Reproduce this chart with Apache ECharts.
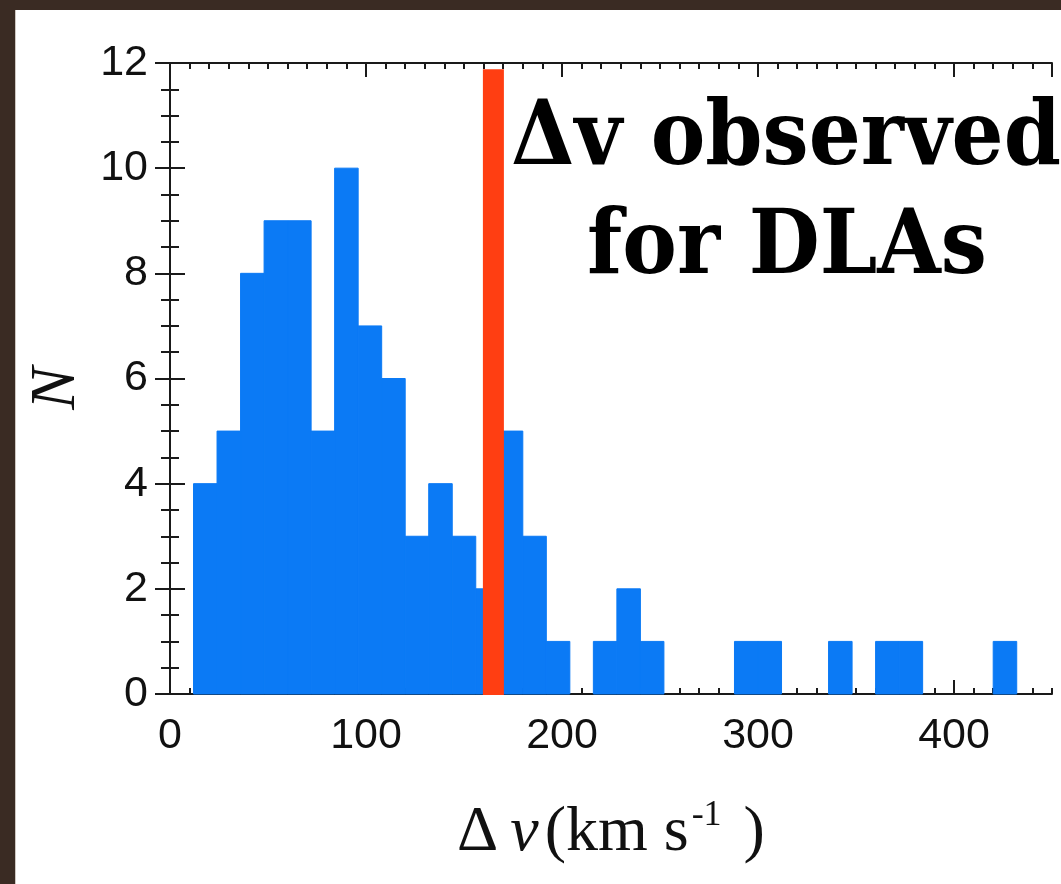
<!DOCTYPE html>
<html>
<head>
<meta charset="utf-8">
<script src="https://cdn.jsdelivr.net/npm/echarts@6/dist/echarts.min.js"></script>
<style>
html,body{margin:0;padding:0;background:#3a2b23;}
#panel{position:absolute;left:15px;top:10px;width:1046px;height:874px;background:#ffffff;border-left:1px solid #cfc8c2;}
#c{position:absolute;left:0;top:0;width:1061px;height:884px;}
</style>
</head>
<body>
<div id="panel"></div>
<div id="c"></div>
<script>
// Histogram bins (km/s) and counts
const binLeft  = [12, 24, 36, 48, 60, 72, 84, 96, 108, 120, 132, 144, 156, 168, 180, 192, 204, 216, 228, 240, 252, 264, 276, 288, 300, 312, 324, 336, 348, 360, 372, 384, 396, 408, 420];
const binRight = [24, 36, 48, 60, 72, 84, 96, 108, 120, 132, 144, 156, 168, 180, 192, 204, 216, 228, 240, 252, 264, 276, 288, 300, 312, 324, 336, 348, 360, 372, 384, 396, 408, 420, 432];
const counts   = [4, 5, 8, 9, 9, 5, 10, 7, 6, 3, 4, 3, 2, 5, 3, 1, 0, 1, 2, 1, 0, 0, 0, 1, 1, 0, 0, 1, 0, 1, 1, 0, 0, 0, 1];

// Observed DLA velocity width marker
const observedDv = 165;
const observedTop = 11.88;

// Axes
const xMin = 0, xMax = 450, xMajor = 100, xMinor = 10;
const yMin = 0, yMax = 12, yMajor = 2;
const annotationLines = ['Δv observed', 'for DLAs'];
const xName = '{d|Δ}{v|v}{t|(km s}{s|-1}{p|)}';
const yName = 'N';

const chart = echarts.init(document.getElementById('c'), null, {renderer: 'canvas'});

const axisLine = {show: true, lineStyle: {color: '#1a1a1a', width: 2}};
function xAxisDef(pos, interval, len, labels, line) {
  return {
    type: 'value', position: pos, min: xMin, max: xMax, interval: interval,
    axisLine: line ? axisLine : {show: false},
    axisTick: {show: true, inside: true, length: len, lineStyle: {color: '#1a1a1a', width: 2}},
    axisLabel: labels ? {
      show: true, margin: 21, color: '#111', fontSize: 43, fontFamily: 'Liberation Sans',
      showMaxLabel: false,
      formatter: v => (v % 100 === 0 ? String(v) : '')
    } : {show: false},
    splitLine: {show: false}
  };
}

const serif = 'Liberation Serif';
const option = {
  backgroundColor: 'transparent',
  animation: false,
  grid: {left: 170, right: 9, top: 63, bottom: 190, containLabel: false},
  xAxis: [
    Object.assign(xAxisDef('bottom', xMajor, 14, true, true), {
      name: xName, nameLocation: 'middle', nameGap: 104,
      nameTextStyle: {
        rich: {
          d: {fontFamily: serif, fontSize: 64, color: '#111', lineHeight: 70, padding: [0, 12, 0, 0]},
          v: {fontFamily: serif, fontStyle: 'italic', fontSize: 64, color: '#111', lineHeight: 70, padding: [0, 6, 0, 0]},
          t: {fontFamily: serif, fontSize: 64, color: '#111', lineHeight: 70},
          s: {fontFamily: serif, fontSize: 36, color: '#111', lineHeight: 36, verticalAlign: 'top', padding: [0, 0, 0, 3]},
          p: {fontFamily: serif, fontSize: 64, color: '#111', lineHeight: 70, padding: [0, 0, 0, 22]}
        }
      }
    }),
    xAxisDef('bottom', xMinor, 6, false, false),
    xAxisDef('top', xMajor, 14, false, true),
    xAxisDef('top', xMinor, 6, false, false)
  ],
  yAxis: [
    {
      type: 'value', position: 'left', min: yMin, max: yMax, interval: yMajor,
      axisLine: axisLine,
      axisTick: {show: true, inside: true, length: 15, lineStyle: {color: '#1a1a1a', width: 2}},
      minorTick: {show: true, splitNumber: 4, length: 9, lineStyle: {color: '#1a1a1a', width: 2}},
      axisLabel: {show: true, margin: 22, color: '#111', fontSize: 43, fontFamily: 'Liberation Sans'},
      splitLine: {show: false},
      name: yName, nameLocation: 'middle', nameGap: 69, nameRotate: 90,
      nameTextStyle: {fontFamily: serif, fontStyle: 'italic', fontSize: 64, color: '#111', padding: [0, 20, 0, 0]}
    },
    {
      type: 'value', position: 'right', min: yMin, max: yMax, interval: yMajor,
      axisLine: axisLine,
      axisTick: {show: true, inside: true, length: 15, lineStyle: {color: '#1a1a1a', width: 2}},
      minorTick: {show: true, splitNumber: 4, length: 9, lineStyle: {color: '#1a1a1a', width: 2}},
      axisLabel: {show: false},
      splitLine: {show: false}
    }
  ],
  series: [
    {
      type: 'custom',
      xAxisIndex: 0, yAxisIndex: 0,
      z: 1,
      encode: {x: [0, 1], y: 2},
      data: binLeft.map((l, i) => [l, binRight[i], counts[i]]),
      renderItem: function (params, api) {
        if (api.value(2) <= 0) return null;
        const p0 = api.coord([api.value(0), api.value(2)]);
        const p1 = api.coord([api.value(1), 0]);
        return {
          type: 'rect',
          shape: {x: p0[0], y: p0[1], width: p1[0] - p0[0], height: p1[1] - p0[1]},
          style: {fill: '#0b7af5', stroke: '#0b7af5', lineWidth: 1}
        };
      }
    },
    {
      type: 'custom',
      xAxisIndex: 0, yAxisIndex: 0,
      z: 5,
      encode: {x: 0, y: 1},
      data: [[observedDv, observedTop]],
      renderItem: function (params, api) {
        const top = api.coord([api.value(0), api.value(1)]);
        const bot = api.coord([api.value(0), 0]);
        return {
          type: 'line',
          shape: {x1: bot[0], y1: bot[1] + 1, x2: top[0], y2: top[1]},
          style: {stroke: '#ff3e12', lineWidth: 21, lineCap: 'butt'}
        };
      }
    }
  ],
  graphic: {
    elements: [
      {
        type: 'text', x: 786, y: 141, z: 100, scaleX: 0.91,
        style: {text: annotationLines[0], fill: '#000', font: 'bold 90px "DejaVu Serif"', textAlign: 'center', textVerticalAlign: 'middle'}
      },
      {
        type: 'text', x: 787, y: 250, z: 100, scaleX: 0.91,
        style: {text: annotationLines[1], fill: '#000', font: 'bold 90px "DejaVu Serif"', textAlign: 'center', textVerticalAlign: 'middle'}
      }
    ]
  }
};
chart.setOption(option);
</script>
</body>
</html>
